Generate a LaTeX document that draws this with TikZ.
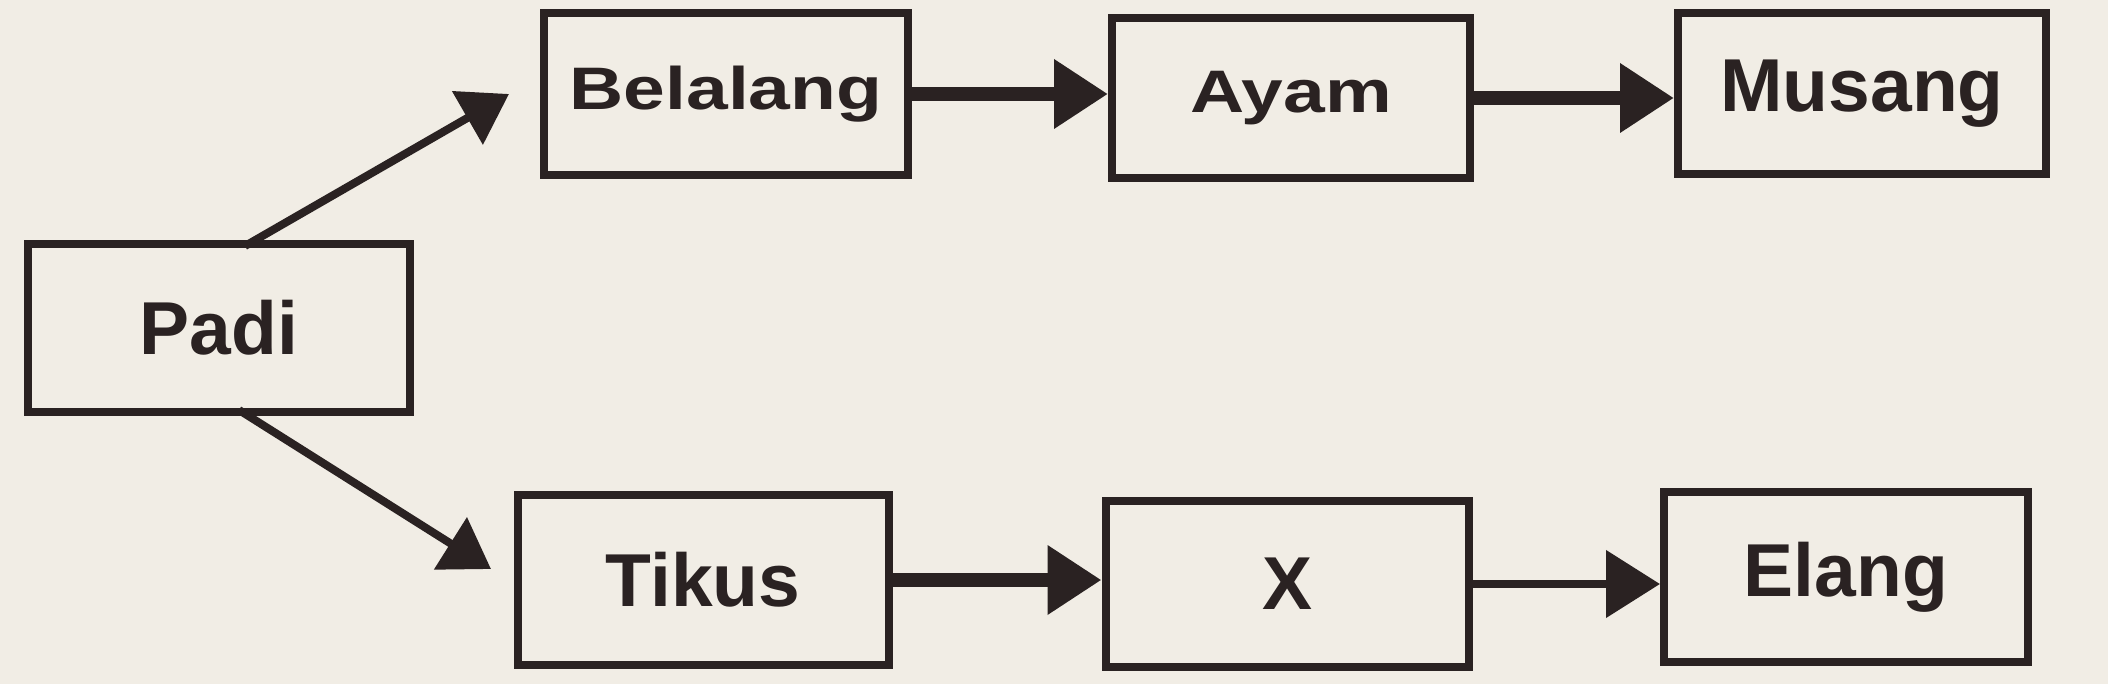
\documentclass[tikz,border=0pt]{standalone}
\usepackage{fontspec}
\usepackage{graphicx}
\setmainfont{Liberation Sans}
\usetikzlibrary{arrows.meta}
\definecolor{ink}{RGB}{42,34,34}
\definecolor{paper}{RGB}{241,237,229}
\begin{document}
\begin{tikzpicture}[x=0.5pt,y=-0.5pt,
  box/.style={draw=ink,line width=4pt,inner sep=0pt,text=ink,
    font=\fontsize{37.5}{40}\selectfont\bfseries},
  hlink/.style={draw=ink,line width=#1,-{Triangle[length=27pt,width=33pt]}},
  dlink/.style={draw=ink,line width=4pt,-{Triangle[length=24pt,width=30pt]}}]
\fill[paper] (0,0) rectangle (2108,684);
\useasboundingbox (0,0) rectangle (2108,684);

\node[box,minimum width=191pt,minimum height=84pt] (padi) at (219,328) {Padi};
\node[box,minimum width=182pt,minimum height=81pt] (belalang) at (726,94) {\scalebox{1}[0.8]{Belalang}};
\node[box,minimum width=179pt,minimum height=80pt] (ayam) at (1291,98) {\scalebox{1}[0.8]{Ayam}};
\node[box,minimum width=184pt,minimum height=80.5pt] (musang) at (1862,94) {Musang};
\node[box,minimum width=185.5pt,minimum height=85pt] (tikus) at (703,580) {Tikus};
\node[box,minimum width=181.5pt,minimum height=83pt] (x) at (1287,584) {X};
\node[box,minimum width=182pt,minimum height=85pt] (elang) at (1846,577) {Elang};

\coordinate (s1) at (245,246);
\coordinate (t1) at (509,94);
\coordinate (s2) at (239,410);
\coordinate (t2) at (491,569);

\draw[dlink] (s1) -- (t1);
\draw[dlink] (s2) -- (t2);
\draw[hlink=7pt] (belalang.east) -- (belalang.east -| ayam.west);
\draw[hlink=7pt] (ayam.east) -- (ayam.east -| musang.west);
\draw[hlink=7pt] (tikus.east) -- (tikus.east -| x.west);
\draw[hlink=4pt] (x.east) -- (x.east -| elang.west);
\end{tikzpicture}
\end{document}
